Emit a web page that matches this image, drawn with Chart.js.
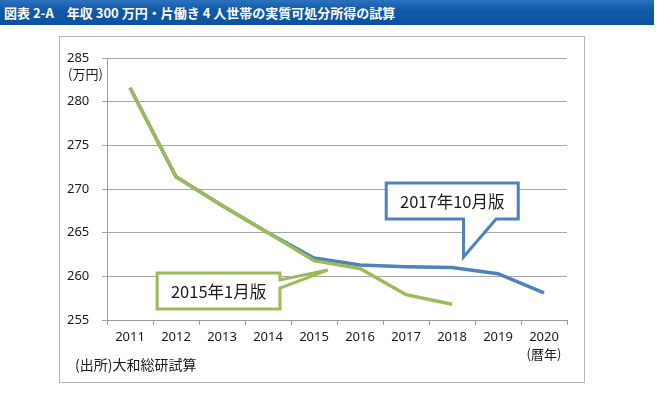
<!DOCTYPE html>
<html>
<head>
<meta charset="utf-8">
<script src="https://cdn.jsdelivr.net/npm/chart.js@4.4.1/dist/chart.umd.min.js"></script>
<style>
    body {
        margin: 0;
        width: 663px;
        height: 395px;
        background: #fff;
        position: relative;
        overflow: hidden;
    }
    #title {
        position: absolute;
        left: 0;
        top: 0;
        width: 654px;
        height: 25px;
        background: linear-gradient(#2d72bf, #105aa8 40%, #0c529e);
        color: #fff;
        font-family: "Noto Sans CJK JP", sans-serif;
        font-size: 13px;
        font-weight: 700;
        line-height: 25px;
        padding-left: 4px;
        box-sizing: border-box;
        white-space: pre;
    }
    #frame {
        position: absolute;
        left: 59px;
        top: 36px;
        width: 526px;
        height: 347px;
        border: 1px solid #b5b5b5;
        box-sizing: border-box;
    }
</style>
</head>
<body>
<div id="title">図表 2-A　年収 300 万円・片働き 4 人世帯の実質可処分所得の試算</div>
<div id="frame"><canvas id="chart" width="524" height="345"></canvas></div>
<script>
// Data
const years = ['2011', '2012', '2013', '2014', '2015', '2016', '2017', '2018', '2019', '2020'];
const jan2015 = [281.6, 271.4, 268.1, 265.0, 261.8, 260.9, 257.9, 256.8, null, null];
const oct2017 = [281.6, 271.4, 268.1, 265.0, 262.1, 261.3, 261.1, 261.0, 260.3, 258.1];
const seriesNames = ['2015年1月版', '2017年10月版'];
const yUnit = '(万円)';
const xUnit = '(暦年)';
const sourceNote = '(出所)大和総研試算';

const green = '#9bbb59';
const blue = '#4f81bd';
const font = '"Noto Sans CJK JP", "Noto Sans", sans-serif';
const tickFont = '"Noto Sans", sans-serif';

/**
 * Draws the speech-bubble labels, unit labels and source note
 */
const pluginNotes = {
    id: 'notes',
    afterDatasetsDraw: function(chart, args, opts) {
        'use strict';
        const ctx = chart.ctx;
        const x = chart.scales.x;
        const y = chart.scales.y;

        for (const c of opts.callouts) {
            const x0 = x.getPixelForValue(c.box[0]);
            const x1 = x.getPixelForValue(c.box[1]);
            const y0 = y.getPixelForValue(c.box[2]);
            const y1 = y.getPixelForValue(c.box[3]);
            const tx = x.getPixelForValue(c.tip[0]);
            const ty = y.getPixelForValue(c.tip[1]);

            ctx.save();
            ctx.beginPath();
            ctx.moveTo(x0, y0);
            ctx.lineTo(x1, y0);
            if (c.side === 'right') {
                ctx.lineTo(x1, y.getPixelForValue(c.base[0]));
                ctx.lineTo(tx, ty);
                ctx.lineTo(x1, y.getPixelForValue(c.base[1]));
                ctx.lineTo(x1, y1);
                ctx.lineTo(x0, y1);
            } else {
                ctx.lineTo(x1, y1);
                ctx.lineTo(x.getPixelForValue(c.base[1]), y1);
                ctx.lineTo(tx, ty);
                ctx.lineTo(x.getPixelForValue(c.base[0]), y1);
                ctx.lineTo(x0, y1);
            }
            ctx.closePath();
            ctx.fillStyle = '#fff';
            ctx.fill();
            ctx.lineWidth = 3;
            ctx.lineJoin = 'miter';
            ctx.strokeStyle = c.color;
            ctx.stroke();

            ctx.fillStyle = '#1a1a1a';
            ctx.font = '16.5px ' + font;
            ctx.textAlign = 'center';
            ctx.textBaseline = 'middle';
            ctx.fillText(c.text, (x0 + x1) / 2, (y0 + y1) / 2 + 1);
            ctx.restore();
        }

        ctx.save();
        ctx.fillStyle = '#1a1a1a';
        ctx.font = '13px ' + font;
        ctx.textBaseline = 'middle';
        ctx.textAlign = 'left';
        ctx.fillText(yUnit, 8, y.getPixelForValue(285) + 16);
        ctx.textAlign = 'center';
        ctx.fillText(xUnit, x.getPixelForValue(years.length - 1), x.bottom - 28);
        ctx.font = '14px ' + font;
        ctx.textAlign = 'left';
        ctx.fillText(sourceNote, 15, x.bottom - 17);
        ctx.restore();
    },
};

new Chart(document.getElementById('chart'), {
    type: 'line',
    data: {
        labels: years,
        datasets: [
            {
                label: seriesNames[0],
                data: jan2015,
                borderColor: green,
                borderWidth: 3.5,
                pointRadius: 0,
                tension: 0,
                order: 0,
            },
            {
                label: seriesNames[1],
                data: oct2017,
                borderColor: blue,
                borderWidth: 3.5,
                pointRadius: 0,
                tension: 0,
                order: 1,
            },
        ],
    },
    options: {
        responsive: false,
        animation: false,
        layout: {
            padding: {left: 7, right: 17, top: 21, bottom: 0},
        },
        scales: {
            x: {
                offset: true,
                afterFit: function(scale) {
                    scale.height = 62;
                },
                grid: {
                    offset: true,
                    drawOnChartArea: false,
                    tickLength: 5,
                    color: '#9a9a9a',
                },
                border: {color: '#9a9a9a'},
                ticks: {
                    color: '#1a1a1a',
                    font: {family: tickFont, size: 13},
                    padding: 4,
                    maxRotation: 0,
                },
            },
            y: {
                min: 255,
                max: 285,
                afterFit: function(scale) {
                    scale.width = 40;
                },
                grid: {
                    color: '#a6a6a6',
                    tickLength: 5,
                },
                border: {color: '#9a9a9a'},
                ticks: {
                    stepSize: 5,
                    crossAlign: 'far',
                    color: '#1a1a1a',
                    font: {family: tickFont, size: 13},
                },
            },
        },
        plugins: {
            legend: {display: false},
            tooltip: {enabled: false},
            notes: {
                callouts: [
                    {
                        text: seriesNames[0],
                        color: green,
                        side: 'right',
                        box: [0.59, 3.26, 260.38, 256.26],
                        base: [259.58, 258.66],
                        tip: [4.30, 260.72],
                    },
                    {
                        text: seriesNames[1],
                        color: blue,
                        side: 'bottom',
                        box: [5.57, 8.44, 270.69, 266.56],
                        base: [7.25, 7.96],
                        tip: [7.25, 262.21],
                    },
                ],
            },
        },
    },
    plugins: [pluginNotes],
});
</script>
</body>
</html>
